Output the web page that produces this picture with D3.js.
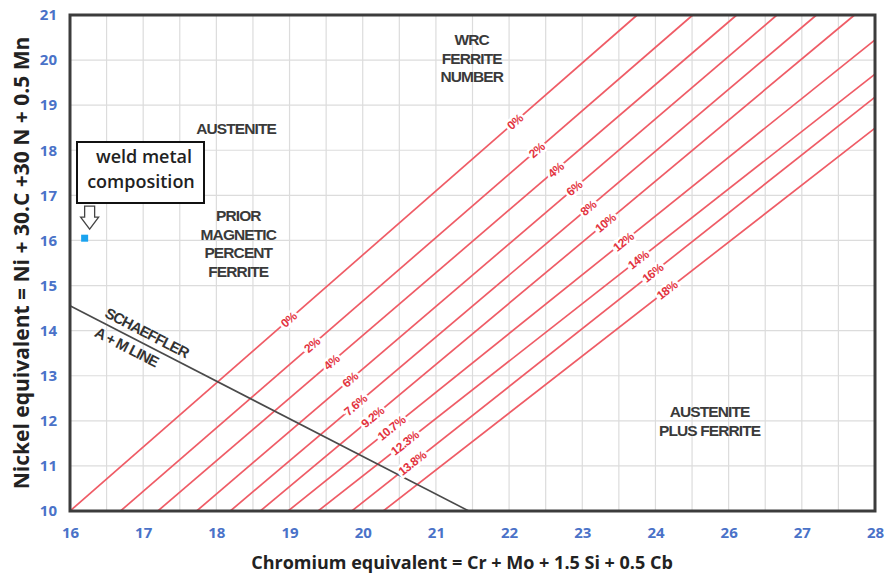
<!DOCTYPE html>
<html>
<head>
<meta charset="utf-8">
<script src="https://cdn.jsdelivr.net/npm/d3@7"></script>
<style>
  body { margin: 0; background: #fff; }
  svg { display: block; }
</style>
</head>
<body>
<script>
// Set up chart
var svgWidth = 886;
var svgHeight = 578;
var margin = { top: 15, right: 11, bottom: 67, left: 70 };

// x axis positions 16..27, printed labels as in the original (25 is printed as 26)
var xTickValues = [16, 17, 18, 19, 20, 21, 22, 23, 24, 25, 26, 27];
var xTickLabels = ["16", "17", "18", "19", "20", "21", "22", "23", "24", "26", "27", "28"];
var yTickValues = [10, 11, 12, 13, 14, 15, 16, 17, 18, 19, 20, 21];

// iso-ferrite lines: start (Cr eq, Ni eq) and end (Cr eq, Ni eq)
var lineStartCr = [16.00, 16.69, 17.20, 17.73, 18.19, 18.60, 18.98, 19.39, 19.85, 20.28];
var lineStartNi = [10, 10, 10, 10, 10, 10, 10, 10, 10, 10];
var lineEndCr = [23.75, 24.51, 25.11, 25.66, 26.20, 26.72, 27, 27, 27, 27];
var lineEndNi = [21, 21, 21, 21, 21, 21, 20.45, 19.69, 19.18, 18.49];

// WRC ferrite number labels (upper) and prior magnetic percent labels (lower)
var fnLabels = ["0%", "2%", "4%", "6%", "8%", "10%", "12%", "14%", "16%", "18%"];
var fnLabelNi = [18.63, 18.00, 17.56, 17.16, 16.72, 16.39, 15.97, 15.57, 15.28, 14.90];
var pctLabels = ["0%", "2%", "4%", "6%", "7.6%", "9.2%", "10.7%", "12.3%", "13.8%"];
var pctLabelNi = [14.24, 13.68, 13.30, 12.91, 12.35, 12.08, 11.84, 11.51, 11.06];

// Schaeffler A + M line
var schaefflerCr = [16, 21.45];
var schaefflerNi = [14.55, 10];

// weld metal composition point
var weldCr = [16.2];
var weldNi = [16.05];

var width = svgWidth - margin.left - margin.right;
var height = svgHeight - margin.top - margin.bottom;

var svg = d3.select("body")
    .append("svg")
    .attr("width", svgWidth)
    .attr("height", svgHeight);

var chartGroup = svg.append("g")
    .attr("transform", `translate(${margin.left}, ${margin.top})`);

// CREATE SCALES
var xScale = d3.scaleLinear().domain([16, 27]).range([0, width]);
var yScale = d3.scaleLinear().domain([10, 21]).range([height, 0]);

// grid: vertical every half unit, horizontal every unit
chartGroup.append("g")
    .selectAll("line")
    .data(d3.range(16, 27.01, 0.5))
    .enter()
    .append("line")
    .attr("x1", d => xScale(d))
    .attr("x2", d => xScale(d))
    .attr("y1", 0)
    .attr("y2", height)
    .attr("stroke", "#dcdcdc")
    .attr("stroke-width", 1.2);

chartGroup.append("g")
    .selectAll("line")
    .data(yTickValues)
    .enter()
    .append("line")
    .attr("x1", 0)
    .attr("x2", width)
    .attr("y1", d => yScale(d))
    .attr("y2", d => yScale(d))
    .attr("stroke", "#dcdcdc")
    .attr("stroke-width", 1.2);

// iso-ferrite lines
var lineData = lineStartCr.map(function(c, i) {
    return { x1: c, y1: lineStartNi[i], x2: lineEndCr[i], y2: lineEndNi[i] };
});

chartGroup.append("g")
    .selectAll("line")
    .data(lineData)
    .enter()
    .append("line")
    .attr("x1", d => xScale(d.x1))
    .attr("y1", d => yScale(d.y1))
    .attr("x2", d => xScale(d.x2))
    .attr("y2", d => yScale(d.y2))
    .attr("stroke", "#ef5c66")
    .attr("stroke-width", 1.7);

// Schaeffler line
chartGroup.append("line")
    .attr("x1", xScale(schaefflerCr[0]))
    .attr("y1", yScale(schaefflerNi[0]))
    .attr("x2", xScale(schaefflerCr[1]))
    .attr("y2", yScale(schaefflerNi[1]))
    .attr("stroke", "#4a4a4a")
    .attr("stroke-width", 1.6);

// labels sitting on a line at a given Ni eq
function onLine(d, ni) {
    var cr = d.x1 + (ni - d.y1) * (d.x2 - d.x1) / (d.y2 - d.y1);
    var ang = Math.atan2(yScale(d.y2) - yScale(d.y1), xScale(d.x2) - xScale(d.x1)) * 180 / Math.PI;
    return { x: xScale(cr), y: yScale(ni), a: ang };
}

function lineLabels(labels, nis) {
    chartGroup.append("g")
        .selectAll("text")
        .data(labels)
        .enter()
        .append("text")
        .text(d => d)
        .attr("transform", function(d, i) {
            var p = onLine(lineData[i], nis[i]);
            return `translate(${p.x},${p.y}) rotate(${p.a})`;
        })
        .attr("text-anchor", "middle")
        .attr("dy", "0.35em")
        .attr("font-family", "Liberation Sans, Arial, sans-serif")
        .attr("font-weight", "bold")
        .attr("font-size", 12)
        .attr("letter-spacing", -0.5)
        .attr("fill", "#e3343f")
        .attr("stroke", "#fff")
        .attr("stroke-width", 5)
        .attr("paint-order", "stroke");
}
lineLabels(fnLabels, fnLabelNi);
lineLabels(pctLabels, pctLabelNi);

// Schaeffler label, rotated along the line
var sAng = Math.atan2(yScale(schaefflerNi[1]) - yScale(schaefflerNi[0]),
    xScale(schaefflerCr[1]) - xScale(schaefflerCr[0])) * 180 / Math.PI;
var sSlope = (schaefflerNi[1] - schaefflerNi[0]) / (schaefflerCr[1] - schaefflerCr[0]);
[["SCHAEFFLER", 16.98, -6], ["A + M LINE", 16.84, 16]].forEach(function(t) {
    var px = xScale(t[1]);
    var py = yScale(schaefflerNi[0] + (t[1] - schaefflerCr[0]) * sSlope);
    chartGroup.append("text")
        .text(t[0])
        .attr("transform", `translate(${px},${py}) rotate(${sAng}) translate(0,${t[2]})`)
        .attr("text-anchor", "middle")
        .attr("font-family", "Liberation Sans, Arial, sans-serif")
        .attr("font-weight", "bold")
        .attr("font-size", 15)
        .attr("letter-spacing", -0.9)
        .attr("fill", "#333");
});

// region labels
var regionLabels = [
    { lines: ["AUSTENITE"], cr: 18.27, ni: 18.49 },
    { lines: ["PRIOR", "MAGNETIC", "PERCENT", "FERRITE"], cr: 18.3, ni: 16.55 },
    { lines: ["WRC", "FERRITE", "NUMBER"], cr: 21.49, ni: 20.45 },
    { lines: ["AUSTENITE", "PLUS FERRITE"], cr: 24.74, ni: 12.2 }
];
regionLabels.forEach(function(r) {
    var t = chartGroup.append("text")
        .attr("x", xScale(r.cr))
        .attr("y", yScale(r.ni))
        .attr("text-anchor", "middle")
        .attr("font-family", "Liberation Sans, Arial, sans-serif")
        .attr("font-weight", "bold")
        .attr("font-size", 15.5)
        .attr("letter-spacing", -0.9)
        .attr("fill", "#3a3a3a");
    r.lines.forEach(function(s, i) {
        t.append("tspan")
            .attr("x", xScale(r.cr))
            .attr("dy", i == 0 ? "0.35em" : 18.5)
            .text(s);
    });
});

// frame
chartGroup.append("rect")
    .attr("width", width)
    .attr("height", height)
    .attr("fill", "none")
    .attr("stroke", "#3c3c3c")
    .attr("stroke-width", 3);

// axes (labels only)
var xAxis = d3.axisBottom(xScale)
    .tickValues(xTickValues)
    .tickFormat((d, i) => xTickLabels[i])
    .tickSize(0)
    .tickPadding(16);
var yAxis = d3.axisLeft(yScale)
    .tickValues(yTickValues)
    .tickSize(0)
    .tickPadding(13);

var xg = chartGroup.append("g")
    .attr("transform", `translate(0,${height})`)
    .call(xAxis);
var yg = chartGroup.append("g").call(yAxis);
[xg, yg].forEach(function(g) {
    g.select(".domain").remove();
    g.selectAll("text")
        .attr("font-family", "Open Sans, sans-serif")
        .attr("font-weight", "bold")
        .attr("font-size", 15)
        .attr("fill", "#4a72c8");
});

// axis titles
svg.append("text")
    .attr("x", 462)
    .attr("y", 569)
    .attr("text-anchor", "middle")
    .attr("font-family", "Open Sans, sans-serif")
    .attr("font-weight", "bold")
    .attr("font-size", 18)
    .attr("fill", "#222")
    .text("Chromium equivalent = Cr + Mo + 1.5 Si + 0.5 Cb");

svg.append("text")
    .attr("transform", `translate(29,263) rotate(-90)`)
    .attr("text-anchor", "middle")
    .attr("font-family", "Open Sans, sans-serif")
    .attr("font-weight", "bold")
    .attr("font-size", 21)
    .attr("fill", "#222")
    .text("Nickel equivalent = Ni + 30.C +30 N + 0.5 Mn");

// weld metal composition callout
var boxX = margin.left + xScale(16) + 7;
var boxY = 142;
svg.append("rect")
    .attr("x", boxX)
    .attr("y", boxY)
    .attr("width", 127)
    .attr("height", 61)
    .attr("fill", "#fff")
    .attr("stroke", "#111")
    .attr("stroke-width", 2);
svg.append("text")
    .attr("x", boxX + 67)
    .attr("y", boxY + 21)
    .attr("text-anchor", "middle")
    .attr("font-family", "Open Sans, sans-serif")
    .attr("font-weight", 600)
    .attr("font-size", 18)
    .attr("fill", "#222")
    .text("weld metal");
svg.append("text")
    .attr("x", boxX + 64)
    .attr("y", boxY + 46)
    .attr("text-anchor", "middle")
    .attr("font-family", "Open Sans, sans-serif")
    .attr("font-weight", 600)
    .attr("font-size", 18)
    .attr("fill", "#222")
    .text("composition");

// hollow arrow pointing at the point
var wx = margin.left + xScale(weldCr[0]);
var wy = margin.top + yScale(weldNi[0]);
var ax = wx + 5;
svg.append("path")
    .attr("d", `M${ax - 5},${wy - 32} L${ax + 5},${wy - 32} L${ax + 5},${wy - 21} L${ax + 9},${wy - 21} L${ax},${wy - 9} L${ax - 9},${wy - 21} L${ax - 5},${wy - 21} Z`)
    .attr("fill", "#fff")
    .attr("stroke", "#444")
    .attr("stroke-width", 1.3);

svg.selectAll(".weld")
    .data(weldCr)
    .enter()
    .append("rect")
    .attr("class", "weld")
    .attr("x", (d, i) => margin.left + xScale(d) - 3.5)
    .attr("y", (d, i) => margin.top + yScale(weldNi[i]) - 3.5)
    .attr("width", 7)
    .attr("height", 7)
    .attr("fill", "#1aa3ef");
</script>
</body>
</html>
